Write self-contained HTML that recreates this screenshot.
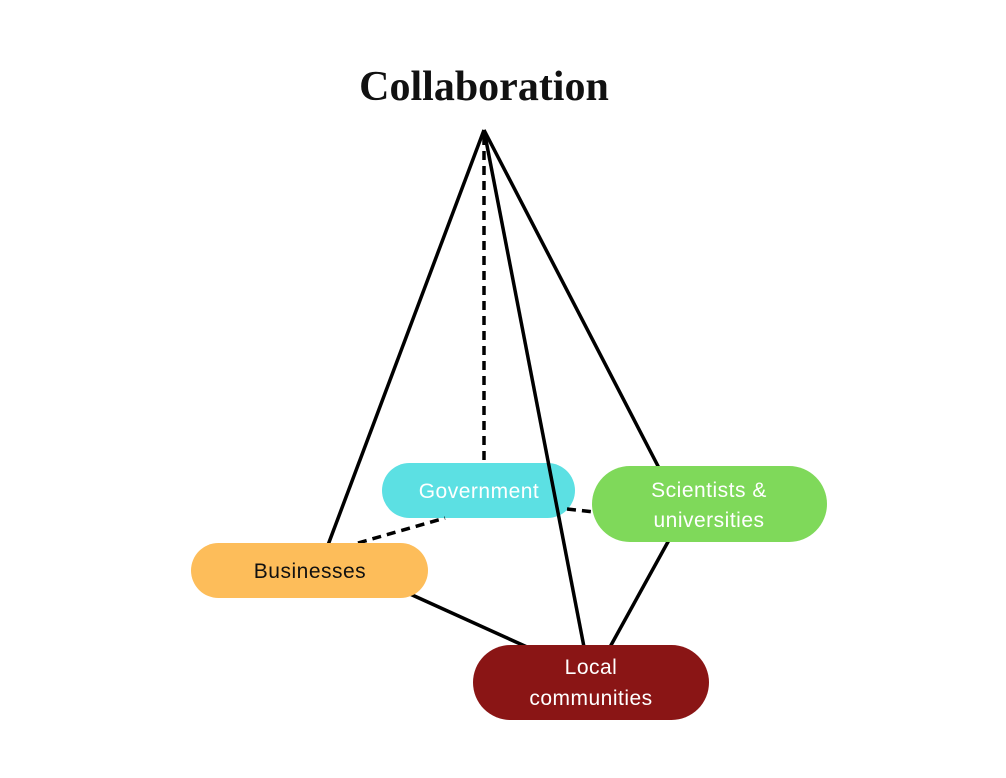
<!DOCTYPE html>
<html><head><meta charset="utf-8"><style>
html,body{margin:0;padding:0;background:#fff;}
svg{display:block;}
</style></head><body>
<svg width="1006" height="778" viewBox="0 0 1006 778" xmlns="http://www.w3.org/2000/svg">
<text x="484" y="100" text-anchor="middle" font-family="Liberation Serif, serif" font-weight="bold" font-size="42" fill="#111">Collaboration</text>
<rect x="382" y="463" width="193" height="55" rx="27.5" fill="#5ce0e3"/>
<text x="479" y="498" text-anchor="middle" font-family="Liberation Sans, sans-serif" font-size="21" fill="#fff" letter-spacing="0.5">Government</text>
<g stroke="#000" stroke-width="3.5" fill="none" stroke-linecap="butt">
<line x1="484" y1="130" x2="328" y2="545"/>
<line x1="484" y1="130" x2="584" y2="647"/>
<line x1="484" y1="130" x2="659" y2="468"/>
<line x1="669" y1="540" x2="610" y2="647"/>
<line x1="410" y1="594" x2="527" y2="647"/>
<g stroke-dasharray="9,6">
<line x1="484" y1="136" x2="484" y2="462"/>
<line x1="358" y1="543" x2="445" y2="518"/>
<line x1="567" y1="509" x2="594" y2="512"/>
</g>
</g>
<rect x="592" y="466" width="235" height="76" rx="38" fill="#7fd95a"/>
<text x="709" y="497" text-anchor="middle" font-family="Liberation Sans, sans-serif" font-size="21" fill="#fff" letter-spacing="0.5">Scientists &amp;</text>
<text x="709" y="527" text-anchor="middle" font-family="Liberation Sans, sans-serif" font-size="21" fill="#fff" letter-spacing="0.5">universities</text>
<rect x="191" y="543" width="237" height="55" rx="27.5" fill="#fdbd5a"/>
<text x="310" y="578" text-anchor="middle" font-family="Liberation Sans, sans-serif" font-size="21" fill="#111" letter-spacing="0.5">Businesses</text>
<rect x="473" y="645" width="236" height="75" rx="37.5" fill="#8a1515"/>
<text x="591" y="674" text-anchor="middle" font-family="Liberation Sans, sans-serif" font-size="21" fill="#fff" letter-spacing="0.5">Local</text>
<text x="591" y="705" text-anchor="middle" font-family="Liberation Sans, sans-serif" font-size="21" fill="#fff" letter-spacing="0.5">communities</text>
</svg>
</body></html>
